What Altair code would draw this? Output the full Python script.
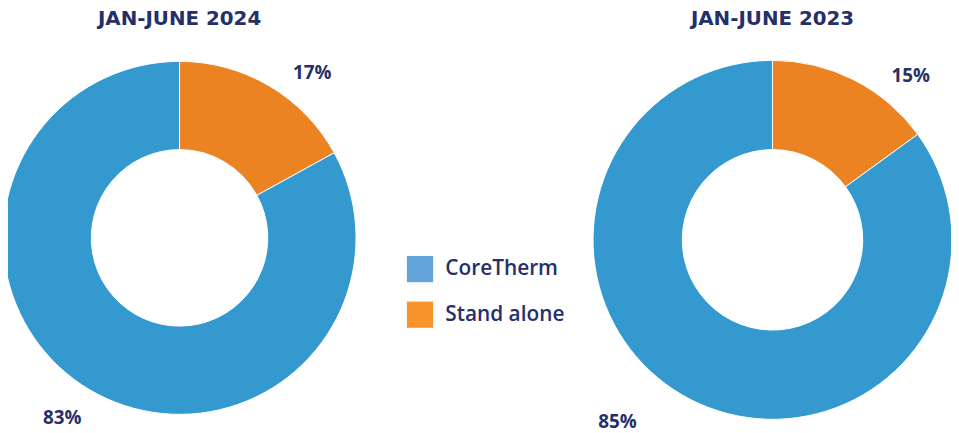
import altair as alt
import pandas as pd

categories = ["Stand alone", "CoreTherm"]
values_2024 = [17, 83]
values_2023 = [15, 85]
titles = ["JAN-JUNE 2024", "JAN-JUNE 2023"]
legend_order = ["CoreTherm", "Stand alone"]

pie_colors = ["#eb8322", "#3399cf"]
legend_colors = ["#64a4da", "#f7952c"]
navy = "#25306a"
FONT = "Open Sans"
TITLE_FONT = "DejaVu Sans"

def make_df(vals):
    return pd.DataFrame({
        "cat": categories,
        "value": vals,
        "ord": list(range(len(categories))),
        "label": [f"{v}%" for v in vals],
    })

df24 = make_df(values_2024)
df23 = make_df(values_2023)

fill_scale = alt.Scale(domain=categories, range=pie_colors)
theta_enc = alt.Theta("value:Q", stack=True, scale=alt.Scale(domain=[0, 100]))

def donut(df, cx, cy, r_out, r_in, title, label_style):
    base = alt.Chart(df)
    arc = base.mark_arc(radius=r_out, innerRadius=r_in, stroke="white", strokeWidth=1).encode(
        theta=theta_enc,
        order=alt.Order("ord:Q"),
        fill=alt.Fill("cat:N", scale=fill_scale, legend=None),
        x=alt.value(cx), y=alt.value(cy),
    )
    layers = [arc]
    for cat, (rad, off) in label_style.items():
        txt = base.mark_text(radius=rad, thetaOffset=off, font=FONT, fontSize=19,
                             fontWeight="bold", color=navy).encode(
            theta=theta_enc,
            order=alt.Order("ord:Q"),
            text="label:N",
            opacity=alt.condition(alt.datum.cat == cat, alt.value(1), alt.value(0)),
            x=alt.value(cx), y=alt.value(cy),
        )
        layers.append(txt)
    ttl = alt.Chart(pd.DataFrame({"t": [title]})).mark_text(
        font=TITLE_FONT, fontSize=20, fontWeight="bold", color=navy, baseline="alphabetic"
    ).encode(text="t:N", x=alt.value(cx), y=alt.value(15))
    layers.append(ttl)
    return layers

legend_layer = alt.Chart(pd.DataFrame({"cat": legend_order})).mark_square(opacity=0).encode(
    color=alt.Color("cat:N", scale=alt.Scale(domain=legend_order, range=legend_colors),
                    sort=legend_order,
                    legend=alt.Legend(title=None, orient="none", legendX=402, legendY=248,
                                      symbolType="square", symbolSize=700, symbolOpacity=1,
                                      symbolStrokeWidth=0, labelFont=FONT, labelFontSize=21,
                                      labelFontWeight=600, labelColor=navy, rowPadding=19,
                                      labelOffset=12)),
    x=alt.value(0), y=alt.value(0),
)

layers = (
    donut(df24, 173, 230, 178, 89, titles[0],
          {"Stand alone": (213, 0.145), "CoreTherm": (217, 0.042)})
    + donut(df23, 771, 232, 181, 91, titles[1],
            {"Stand alone": (216, 0.23), "CoreTherm": (241, 0.235)})
    + [legend_layer]
)

chart = alt.layer(*layers).properties(
    width=951, height=425, padding=0,
    autosize=alt.AutoSizeParams(type="none"),
).configure_view(stroke=None)

chart.save("out.html", embed_options={"renderer": "svg", "actions": False})
